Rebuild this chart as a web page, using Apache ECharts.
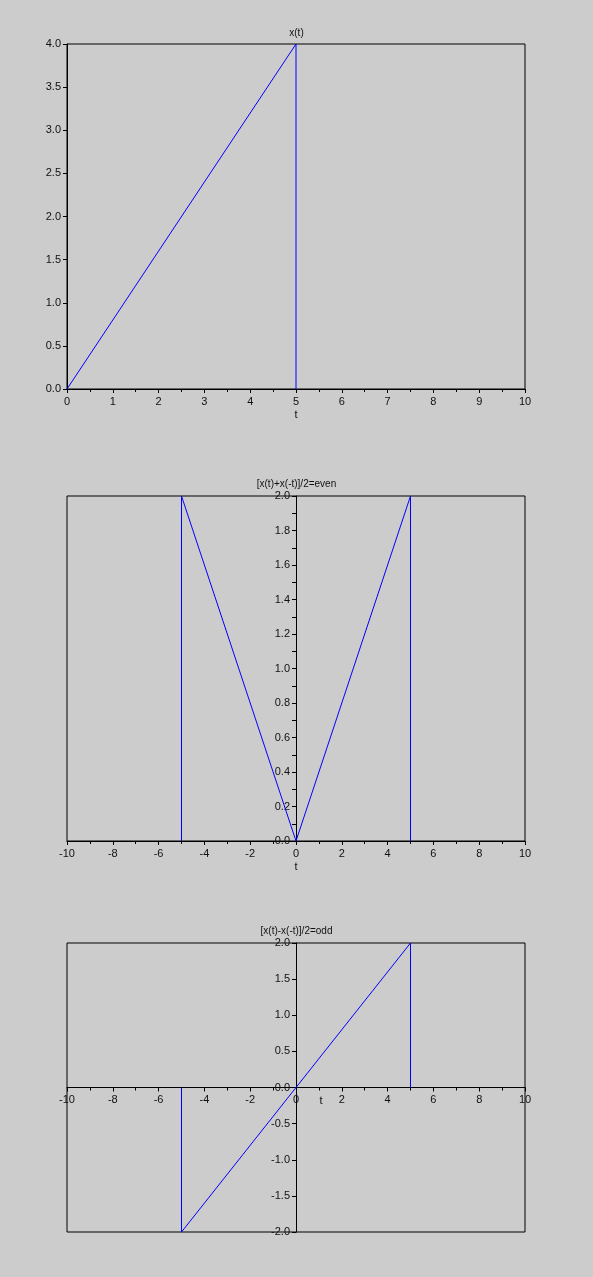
<!DOCTYPE html>
<html>
<head>
<meta charset="utf-8">
<script src="https://cdn.jsdelivr.net/npm/echarts@6/dist/echarts.min.js"></script>
<style>
html,body{margin:0;padding:0;background:#cccccc;}
#c{width:593px;height:1277px;}
</style>
</head>
<body>
<div id="c"></div>
<script>
// Data
const titles = ['x(t)', '[x(t)+x(-t)]/2=even', '[x(t)-x(-t)]/2=odd'];
const t1 = [0, 5, 5];
const x1 = [0, 4, 0];
const t2 = [-5, -5, 0, 5, 5];
const x2 = [0, 2, 0, 2, 0];
const t3 = [-5, -5, 5, 5];
const x3 = [0, -2, 2, 0];

const pairs = (a, b) => a.map((v, i) => [v, b[i]]);
const FONT = 'Liberation Sans';
const txt = {color: '#111', fontSize: 11, fontFamily: FONT};

const GL = 67, GW = 458;
const G = [{top: 44, height: 345}, {top: 496, height: 345}, {top: 943, height: 289}];

function xAx(idx, min, max, interval, extra) {
  return Object.assign({
    type: 'value', gridIndex: idx, min: min, max: max, interval: interval,
    position: 'bottom',
    name: 't', nameLocation: 'middle', nameGap: 20,
    nameTextStyle: {color: '#111', fontSize: 11, fontFamily: FONT},
    axisLine: {show: true, onZero: false, lineStyle: {color: '#000', width: 1}},
    axisTick: {show: true, length: 4, lineStyle: {color: '#000'}},
    minorTick: {show: true, splitNumber: 2, length: 3, lineStyle: {color: '#000'}},
    axisLabel: Object.assign({margin: 7, formatter: v => String(v)}, txt),
    splitLine: {show: false}
  }, extra || {});
}
function yAx(idx, min, max, interval, minor, offset) {
  return {
    type: 'value', gridIndex: idx, min: min, max: max, interval: interval,
    position: 'left', offset: offset || 0,
    axisLine: {show: true, onZero: false, lineStyle: {color: '#000', width: 1}},
    axisTick: {show: true, length: 4, lineStyle: {color: '#000'}},
    minorTick: {show: !!minor, splitNumber: 2, length: 4, lineStyle: {color: '#000'}},
    axisLabel: Object.assign({margin: 6, formatter: v => v.toFixed(1)}, txt),
    splitLine: {show: false}
  };
}
const gridBase = {left: GL, width: GW, show: true, borderColor: '#000', borderWidth: 1, backgroundColor: 'transparent'};

// offsets to place the axes through zero (x = 0 is at the middle of a -10..10 axis; y = 0 is the middle of -2..2)
const yZeroOffset = -GW / 2;
const xZeroOffset = -G[2].height / 2;

const chart = echarts.init(document.getElementById('c'), null, {renderer: 'canvas'});
chart.setOption({
  backgroundColor: '#cccccc',
  animation: false,
  title: [
    {text: titles[0], left: 'center', top: 23, textStyle: {fontSize: 10, fontWeight: 'normal', color: '#111', fontFamily: FONT}},
    {text: titles[1], left: 'center', top: 474, textStyle: {fontSize: 10, fontWeight: 'normal', color: '#111', fontFamily: FONT}},
    {text: titles[2], left: 'center', top: 921, textStyle: {fontSize: 10, fontWeight: 'normal', color: '#111', fontFamily: FONT}}
  ],
  grid: G.map(g => Object.assign({}, gridBase, g)),
  xAxis: [
    xAx(0, 0, 10, 1),
    xAx(1, -10, 10, 2),
    xAx(2, -10, 10, 2, {offset: xZeroOffset, nameGap: 8, nameMoveOverlap: false, nameTextStyle: {color: '#111', fontSize: 11, fontFamily: FONT, padding: [0, 0, 0, 50]}})
  ],
  yAxis: [
    yAx(0, 0, 4, 0.5, false, 0),
    yAx(1, 0, 2, 0.2, true, yZeroOffset),
    yAx(2, -2, 2, 0.5, false, yZeroOffset)
  ],
  series: [
    {type: 'line', xAxisIndex: 0, yAxisIndex: 0, data: pairs(t1, x1), showSymbol: false, symbol: 'none', lineStyle: {color: '#0000ff', width: 1}},
    {type: 'line', xAxisIndex: 1, yAxisIndex: 1, data: pairs(t2, x2), showSymbol: false, symbol: 'none', lineStyle: {color: '#0000ff', width: 1}},
    {type: 'line', xAxisIndex: 2, yAxisIndex: 2, data: pairs(t3, x3), showSymbol: false, symbol: 'none', lineStyle: {color: '#0000ff', width: 1}}
  ]
});
</script>
</body>
</html>
